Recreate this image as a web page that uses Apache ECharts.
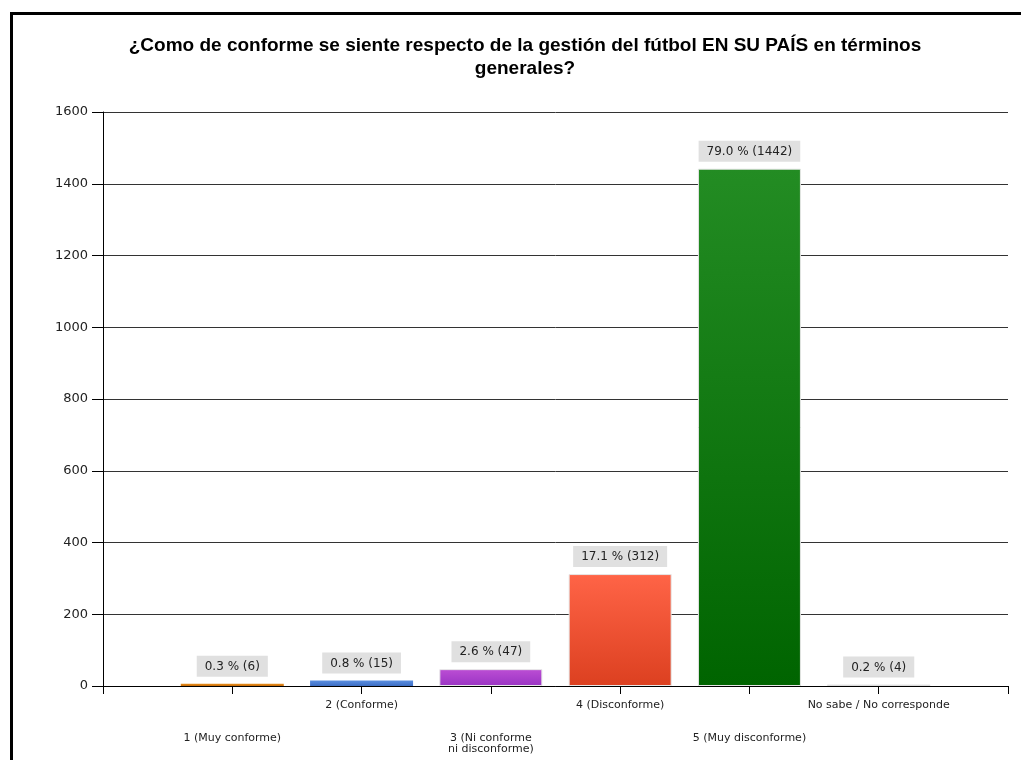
<!DOCTYPE html>
<html>
<head>
<meta charset="utf-8">
<script src="https://cdn.jsdelivr.net/npm/echarts@6/dist/echarts.min.js"></script>
<style>
html,body{margin:0;padding:0;background:#fff;}
#chart{width:1021px;height:760px;}
</style>
</head>
<body>
<div id="chart"></div>
<script>
var titleText = '¿Como de conforme se siente respecto de la gestión del fútbol EN SU PAÍS en términos\ngenerales?';
var categories = ['1 (Muy conforme)', '2 (Conforme)', '3 (Ni conforme\nni disconforme)', '4 (Disconforme)', '5 (Muy disconforme)', 'No sabe / No corresponde'];
var counts = [6, 15, 47, 312, 1442, 4];
var percents = [0.3, 0.8, 2.6, 17.1, 79.0, 0.2];
var yTicks = [0, 200, 400, 600, 800, 1000, 1200, 1400, 1600];

var barColors = [
  ['#e8901e', '#c86a08'],
  ['#5a8ee0', '#3d6ec4'],
  ['#bc4ed4', '#9a34c4'],
  ['#ff6447', '#dc4020'],
  ['#238c23', '#006400'],
  ['#e4e4e4', '#d8d8d8']
];
var barBorders = [0, 0, 1, 1, 1, 0];

var chart = echarts.init(document.getElementById('chart'));
var seriesData = counts.map(function (v, i) {
  return {
    value: [i + 1, v],
    itemStyle: {
      borderWidth: barBorders[i],
      borderColor: '#e6e6e6',
      color: new echarts.graphic.LinearGradient(0, 0, 0, 1, [
        {offset: 0, color: barColors[i][0]},
        {offset: 1, color: barColors[i][1]}
      ])
    }
  };
});

chart.setOption({
  animation: false,
  backgroundColor: '#ffffff',
  title: {
    text: titleText,
    left: 520,
    textAlign: 'center',
    top: 29,
    textStyle: {
      fontFamily: 'Liberation Sans',
      fontWeight: 'bold',
      fontSize: 19,
      lineHeight: 23,
      color: '#000'
    }
  },
  graphic: [{
    type: 'rect',
    shape: {x: 11.5, y: 13.5, width: 1200, height: 1000},
    style: {fill: 'none', stroke: '#000', lineWidth: 3},
    silent: true
  }],
  grid: {left: 103, right: 13, top: 112, bottom: 74},
  xAxis: {
    type: 'value',
    min: 0,
    max: categories.length + 1,
    interval: 1,
    splitLine: {show: false},
    axisLine: {show: true, lineStyle: {color: '#000', width: 1}},
    axisTick: {show: true, length: 8, lineStyle: {color: '#000'}},
    axisLabel: {
      show: true,
      margin: 14,
      fontFamily: 'DejaVu Sans',
      fontSize: 11,
      lineHeight: 11,
      color: '#222',
      showMinLabel: true,
      showMaxLabel: true,
      formatter: function (v) {
        var idx = Math.round(v) - 1;
        if (idx < 0 || idx >= categories.length) return '';
        return (idx % 2 === 0 ? '\n\n\n' : '') + categories[idx];
      }
    }
  },
  yAxis: {
    type: 'value',
    min: yTicks[0],
    max: yTicks[yTicks.length - 1],
    interval: yTicks[1] - yTicks[0],
    axisLine: {show: true, lineStyle: {color: '#000', width: 1}},
    axisTick: {show: true, length: 11, lineStyle: {color: '#000'}},
    axisLabel: {
      margin: 15,
      fontFamily: 'DejaVu Sans',
      fontSize: 13,
      color: '#222',
      formatter: function (v) { return String(v); }
    },
    splitLine: {show: true, lineStyle: {color: '#333', width: 1}}
  },
  series: [{
    type: 'bar',
    barWidth: 103,
    data: seriesData,
    label: {
      show: true,
      position: 'top',
      distance: 7,
      fontFamily: 'DejaVu Sans',
      fontSize: 12,
      color: '#222',
      backgroundColor: '#e0e0e0',
      padding: [5, 8, 4, 8],
      formatter: function (p) {
        var i = p.dataIndex;
        return percents[i].toFixed(1) + ' % (' + counts[i] + ')';
      }
    }
  }]
});
</script>
</body>
</html>
